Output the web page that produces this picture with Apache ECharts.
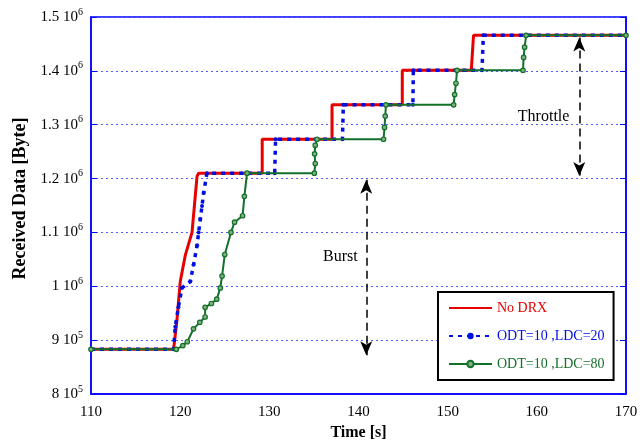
<!DOCTYPE html>
<html>
<head>
<meta charset="utf-8">
<script src="https://cdn.jsdelivr.net/npm/echarts@6/dist/echarts.min.js"></script>
<style>
  html, body { margin: 0; padding: 0; background: #fff; }
  #chart { width: 644px; height: 446px; }
</style>
</head>
<body>
<div id="chart"></div>
<script>
// 数据 —— 从原图读取
const seriesNames = ["No DRX", "ODT=10 ,LDC=20", "ODT=10 ,LDC=80"]

// No DRX
const redT = [110, 119.26, 119.64, 120.01, 120.58, 120.9, 121.33, 121.89, 122.07, 129.2, 129.2, 137.03, 137.03, 144.91, 144.91, 152.65, 152.9, 170]
const redV = [883e3, 883e3, 937e3, 1009e3, 1058e3, 1076e3, 1100e3, 1204e3, 1210e3, 1210e3, 1273e3, 1273e3, 1337e3, 1337e3, 1401e3, 1401e3, 1466e3, 1466e3]

// ODT=10 ,LDC=20
const blueT = [110, 119.26, 119.45, 119.8, 120.2, 121.14, 121.5, 121.9, 122.07, 122.26, 122.45, 122.63, 123.0, 130.6, 130.7, 138.2, 138.3, 146.1, 146.15, 153.85, 154.0, 170]
const blueV = [883e3, 883e3, 925e3, 961e3, 997e3, 1009e3, 1040e3, 1076e3, 1100e3, 1125e3, 1149e3, 1173e3, 1210e3, 1210e3, 1273e3, 1273e3, 1337e3, 1337e3, 1401e3, 1401e3, 1466e3, 1466e3]

// ODT=10 ,LDC=80
const greenT = [110, 119.57, 120.3, 120.8, 121.5, 122.2, 122.8, 122.8, 123.5, 124.1, 124.5, 124.7, 125.0, 125.7, 126.1, 127.0, 127.2, 127.5,
  135.05, 135.15, 135.08, 135.15, 135.35,
  142.81, 142.92, 143.0, 143.08,
  150.67, 150.78, 150.93, 151.05,
  158.45, 158.52, 158.63, 158.8, 170]
const greenV = [883e3, 883e3, 890e3, 897e3, 921e3, 933e3, 943e3, 961e3, 968e3, 976e3, 997e3, 1019e3, 1059e3, 1100e3, 1119e3, 1131e3, 1167e3, 1210e3,
  1210e3, 1228e3, 1246e3, 1262e3, 1273e3,
  1273e3, 1295e3, 1316e3, 1337e3,
  1337e3, 1356e3, 1377e3, 1401e3,
  1401e3, 1425e3, 1444e3, 1466e3, 1466e3]

// 坐标轴刻度标签  (mantissa 10^exp)
const yTickMant = ["8", "9", "1", "1.1", "1.2", "1.3", "1.4", "1.5"]
const yTickExp = ["5", "5", "6", "6", "6", "6", "6", "6"]

// 标注箭头 [x, yTop, yBottom]
const burstArrow = [140.87, 1198e3, 872e3]
const throttleArrow = [164.76, 1462e3, 1205e3]
const burstText = [137.97, 1053e3]
const throttleText = [160.76, 1314e3]

const FONT = "Liberation Serif"
const BLUE = "#0000ff"
const RED = "#e60000"
const DBLUE = "#0010e0"
const GREEN = "#13702a"

const zip = (xs, ys) => xs.map((x, i) => [x, ys[i]])

const arrowLine = (a) => [{ coord: [a[0], a[1]] }, { coord: [a[0], a[2]] }]

const chart = echarts.init(document.getElementById("chart"))

const option = {
  animation: false,
  textStyle: { fontFamily: FONT },
  grid: {
    left: 91, right: 18, top: 17, bottom: 44,
    show: true, borderColor: BLUE, borderWidth: 1.5,
  },
  legend: {
    orient: "vertical",
    left: 438, top: 292,
    padding: [8, 9, 8, 10],
    itemWidth: 43, itemHeight: 8, itemGap: 12,
    borderColor: "#000", borderWidth: 2,
    backgroundColor: "#fff",
    textStyle: { fontFamily: FONT, fontSize: 14, lineHeight: 16 },
    data: [
      { name: seriesNames[0], textStyle: { color: RED }, itemStyle: { color: "rgba(0,0,0,0)", borderWidth: 0 } },
      { name: seriesNames[1], textStyle: { color: DBLUE } },
      { name: seriesNames[2], textStyle: { color: GREEN } },
    ],
  },
  xAxis: {
    type: "value",
    min: 110, max: 170, interval: 10,
    name: "Time [s]",
    nameLocation: "middle", nameGap: 31,
    nameTextStyle: { fontFamily: FONT, fontWeight: "bold", fontSize: 16, color: "#000" },
    axisLine: { lineStyle: { color: BLUE, width: 1.5 } },
    axisTick: { show: false },
    axisLabel: { color: "#000", fontFamily: FONT, fontSize: 15, margin: 11 },
    splitLine: { show: false },
  },
  yAxis: [
    {
      type: "value",
      min: 800000, max: 1500000, interval: 100000,
      name: "Received Data [Byte]",
      nameLocation: "middle", nameGap: 57,
      nameTextStyle: { fontFamily: FONT, fontWeight: "bold", fontSize: 18, color: "#000", padding: [0, 0, 0, 14] },
      axisLine: { show: true, lineStyle: { color: BLUE, width: 1.5 } },
      axisTick: { show: true, inside: true, length: 6, lineStyle: { color: BLUE } },
      axisLabel: {
        margin: 8,
        formatter: (v) => {
          const i = Math.round((v - 800000) / 100000)
          return "{m|" + yTickMant[i] + " 10}{e|" + yTickExp[i] + "}"
        },
        rich: {
          m: { fontFamily: FONT, fontSize: 15, color: "#000", lineHeight: 20 },
          e: { fontFamily: FONT, fontSize: 10, color: "#000", verticalAlign: "top", lineHeight: 12 },
        },
      },
      splitLine: { show: true, lineStyle: { color: "#5a5aff", type: [2, 3], width: 1.2 } },
    },
    {
      type: "value",
      position: "right",
      min: 800000, max: 1500000, interval: 100000,
      axisLine: { show: true, lineStyle: { color: BLUE, width: 1.5 } },
      axisTick: { show: true, inside: true, length: 6, lineStyle: { color: BLUE } },
      axisLabel: { show: false },
      splitLine: { show: false },
    },
  ],
  series: [
    {
      name: seriesNames[0],
      type: "line",
      data: zip(redT, redV),
      symbol: "none",
      color: RED,
      lineStyle: { color: RED, width: 3 },
      z: 2,
      markLine: {
        silent: true,
        symbol: ["arrow", "arrow"],
        symbolSize: [9, 14],
        label: { show: false },
        lineStyle: { color: "#000", type: [8, 5], width: 1.5 },
        data: [arrowLine(burstArrow), arrowLine(throttleArrow)],
      },
      markPoint: {
        silent: true,
        symbolSize: 1,
        itemStyle: { color: "transparent" },
        label: { show: true, position: "inside", color: "#000", fontFamily: FONT, fontSize: 16 },
        data: [
          { coord: burstText, value: "Burst", label: { formatter: "Burst" } },
          { coord: throttleText, value: "Throttle", label: { formatter: "Throttle" } },
        ],
      },
    },
    {
      name: seriesNames[1],
      type: "line",
      data: zip(blueT, blueV),
      symbol: "circle",
      symbolSize: 4,
      showSymbol: true,
      color: DBLUE,
      itemStyle: { color: DBLUE },
      lineStyle: { color: DBLUE, width: 3.5, type: [4, 5] },
      z: 3,
    },
    {
      name: seriesNames[2],
      type: "line",
      data: zip(greenT, greenV),
      symbol: "circle",
      symbolSize: 4.5,
      showSymbol: true,
      color: GREEN,
      itemStyle: { color: "#7fb07f", borderColor: GREEN, borderWidth: 1.2 },
      lineStyle: { color: GREEN, width: 2 },
      z: 4,
    },
  ],
}

chart.setOption(option)
</script>
</body>
</html>
